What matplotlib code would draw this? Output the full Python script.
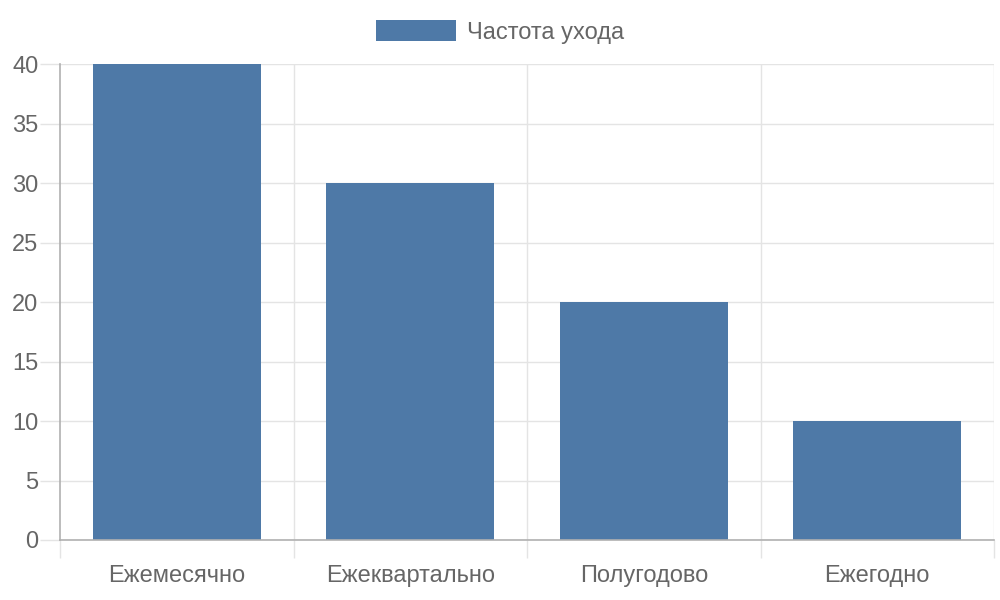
import matplotlib
matplotlib.use("Agg")
import matplotlib.pyplot as plt
import numpy as np

categories = ["Ежемесячно", "Ежеквартально", "Полугодово", "Ежегодно"]
values = [40, 30, 20, 10]
series_name = "Частота ухода"
y_ticks = [0, 5, 10, 15, 20, 25, 30, 35, 40]

plt.rcParams['font.family'] = ['Liberation Sans', 'DejaVu Sans']
bar_color = "#4e79a7"
text_color = "#666666"
grid_color = "#e4e4e4"
axis_color = "#b0b0b0"

fig = plt.figure(figsize=(10, 6), dpi=100)
ax = fig.add_axes([0.06, 0.1, 0.934, 0.7933])

x = np.arange(len(categories))
bars = ax.bar(x, values, width=0.72, color=bar_color, label=series_name, zorder=3)

ax.set_xlim(-0.5, len(categories) - 0.5)
ax.set_ylim(0, 40)

# y axis: grid lines + ticks sticking out to the left
ax.set_yticks(y_ticks)
ax.set_yticklabels([str(t) for t in y_ticks])
ax.tick_params(axis='y', length=14.4, color=grid_color, width=1, labelsize=17,
               labelcolor=text_color, pad=1)
ax.yaxis.grid(True, color=grid_color, linewidth=1, zorder=0)

# x axis: category labels in the middle, ticks/grid at the boundaries
ax.set_xticks(x)
ax.set_xticklabels(categories)
ax.tick_params(axis='x', which='major', length=0, labelsize=17,
               labelcolor=text_color, pad=18)
bounds = np.arange(len(categories) + 1) - 0.5
ax.set_xticks(bounds, minor=True)
ax.tick_params(axis='x', which='minor', length=13, color=grid_color, width=1)
for b in bounds[1:]:
    ax.axvline(b, color=grid_color, linewidth=1, zorder=0)

for side in ['top', 'right']:
    ax.spines[side].set_visible(False)
for side in ['left', 'bottom']:
    ax.spines[side].set_color(axis_color)
    ax.spines[side].set_linewidth(1.2)
    ax.spines[side].set_zorder(4)

fig.legend(handles=[bars], labels=[series_name], loc='center', bbox_to_anchor=(0.5, 0.947),
           frameon=False, fontsize=17, labelcolor=text_color,
           handlelength=3.39, handleheight=0.97, handletextpad=0.5)

fig.savefig("out.png", dpi=100)
